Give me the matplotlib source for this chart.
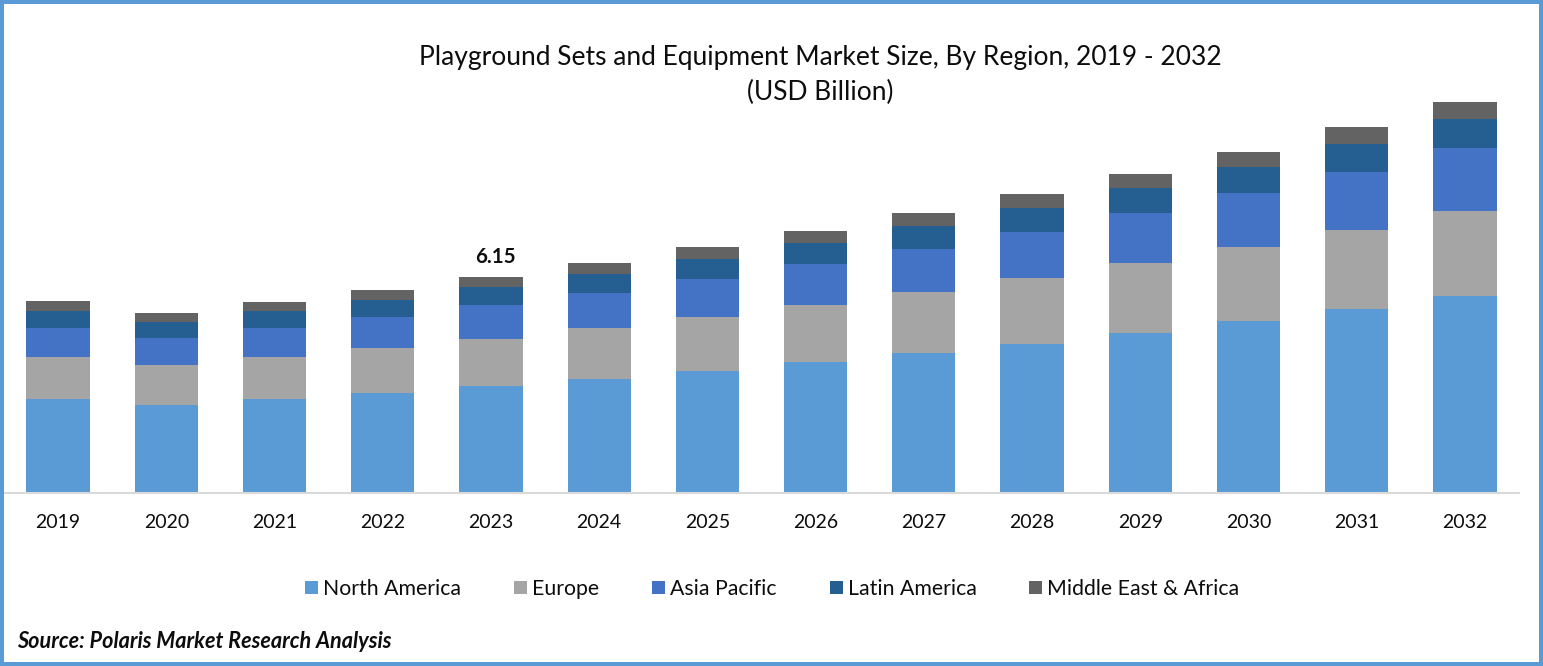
import matplotlib
matplotlib.use("Agg")
import matplotlib.pyplot as plt
from matplotlib.patches import Rectangle
import numpy as np

plt.rcParams['font.family'] = ['Lato', 'DejaVu Sans']

# values, USD billion
years = ['2019', '2020', '2021', '2022', '2023', '2024', '2025', '2026', '2027', '2028', '2029', '2030', '2031', '2032']
north_america = [2.68, 2.51, 2.68, 2.85, 3.05, 3.25, 3.47, 3.73, 3.99, 4.24, 4.56, 4.90, 5.24, 5.61]
europe = [1.20, 1.14, 1.20, 1.28, 1.34, 1.45, 1.54, 1.62, 1.74, 1.88, 1.99, 2.11, 2.25, 2.42]
asia_pacific = [0.83, 0.77, 0.83, 0.88, 0.97, 1.00, 1.08, 1.17, 1.22, 1.31, 1.42, 1.54, 1.65, 1.79]
latin_america = [0.48, 0.46, 0.48, 0.48, 0.51, 0.54, 0.57, 0.60, 0.65, 0.68, 0.71, 0.74, 0.80, 0.83]
mea = [0.28, 0.25, 0.26, 0.28, 0.28, 0.31, 0.34, 0.34, 0.37, 0.40, 0.40, 0.43, 0.48, 0.48]

series = [north_america, europe, asia_pacific, latin_america, mea]
names = ['North America', 'Europe', 'Asia Pacific', 'Latin America', 'Middle East & Africa']
colors = ['#5B9BD5', '#A5A5A5', '#4472C4', '#255E91', '#636363']

W, H = 1543, 666
fig = plt.figure(figsize=(W / 100, H / 100), dpi=100, facecolor='white')

# plot area: baseline at y=493, x from 4 to 1519
ax = fig.add_axes([4 / W, 1 - 493 / H, (1519 - 4) / W, (493 - 60) / H])
ax.set_facecolor('none')
x = np.arange(len(years))
bottom = np.zeros(len(years))
for vals, name, c in zip(series, names, colors):
    ax.bar(x, vals, width=0.585, bottom=bottom, color=c, label=name, linewidth=0)
    bottom += np.array(vals)

ax.set_xlim(-0.5, len(years) - 0.5)
ax.set_ylim(0, 433 / 35.12)
ax.set_yticks([])
ax.set_xticks(x)
ax.set_xticklabels(years, fontsize=14, color='#0d0d0d')
ax.tick_params(axis='x', length=0, pad=15)
for s in ['top', 'left', 'right']:
    ax.spines[s].set_visible(False)
ax.spines['bottom'].set_color('#D9D9D9')
ax.spines['bottom'].set_linewidth(1.5)

# only 2023 carries a total label
ax.annotate('6.15', (x[4], bottom[4]), xytext=(3, 7), textcoords='offset points', ha='center',
            va='bottom', fontsize=14.8, fontweight='bold', color='#0d0d0d')

fig.text(820.5 / W, 1 - 58 / H, 'Playground Sets and Equipment Market Size, By Region, 2019 - 2032',
         ha='center', va='center', fontsize=19, color='#0d0d0d')
fig.text(820.5 / W, 1 - 92 / H, '(USD Billion)', ha='center', va='center', fontsize=19, color='#0d0d0d')

leg = ax.legend(loc='center', bbox_to_anchor=(772.5 / W, 1 - 589 / H), bbox_transform=fig.transFigure,
                ncol=5, frameon=False, fontsize=15.3, handlelength=0.61, handleheight=0.61,
                handletextpad=0.235, columnspacing=2.49, labelcolor='#0d0d0d')

fig.text(17 / W, 1 - 642 / H, 'Source: Polaris Market Research Analysis', ha='left', va='center',
         fontsize=15.6, fontweight='bold', fontstyle='italic', color='#0d0d0d')

# blue frame round the whole picture
fig.add_artist(Rectangle((2 / W, 2 / H), (W - 4) / W, (H - 4) / H, transform=fig.transFigure,
                         fill=False, edgecolor='#5B9BD5', linewidth=2.88))

fig.savefig('out.png', dpi=100)
